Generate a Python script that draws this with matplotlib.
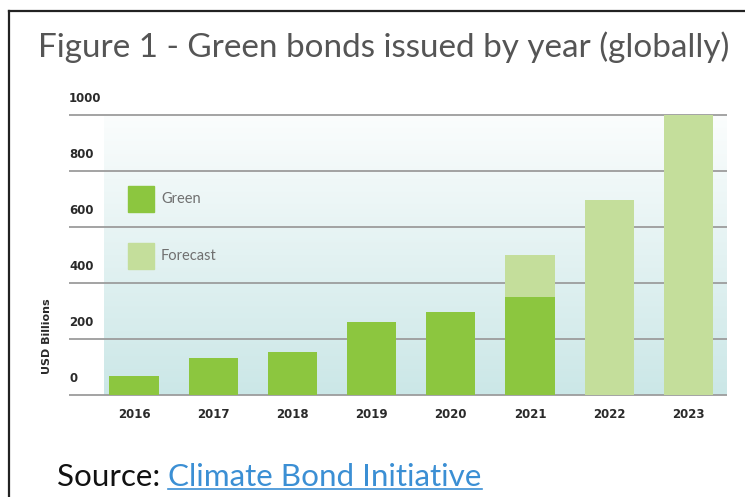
import numpy as np
import matplotlib
matplotlib.use('Agg')
import matplotlib.pyplot as plt
import matplotlib.transforms as mtransforms
from matplotlib.patches import Rectangle
from matplotlib.lines import Line2D

# data
years = ['2016', '2017', '2018', '2019', '2020', '2021', '2022', '2023']
green = [68, 131, 153, 262, 296, 350, 0, 0]
forecast = [0, 0, 0, 0, 0, 150, 695, 1000]
yticks = [0, 200, 400, 600, 800, 1000]
legend_labels = ['Green', 'Forecast']

GREEN = '#8cc63f'
FORECAST = '#c4de9b'
BOLD_FONT = ['DejaVu Sans']

plt.rcParams['font.family'] = ['Lato', 'DejaVu Sans']

W, H = 745, 497
fig = plt.figure(figsize=(W / 100, H / 100), dpi=100)
r = fig.canvas.get_renderer()


def fx(px):
    return px / W


def fy(py):
    return 1 - py / H


def fit_width(txt, width_px):
    # shrink/grow the font so the text spans the same width as in the reference
    w = txt.get_window_extent(r).width
    txt.set_fontsize(txt.get_fontsize() * width_px / w)


# frame (top and left only visible)
fig.add_artist(Line2D([fx(9), fx(9)], [fy(11), 0], color='#222222', lw=1.6))
fig.add_artist(Line2D([fx(9), 1], [fy(11), fy(11)], color='#222222', lw=1.6))

title = fig.text(fx(38), fy(57), 'Figure 1 - Green bonds issued by year (globally)',
                 fontsize=22, color='#555555', ha='left', va='baseline')
fit_width(title, 689)

ax = fig.add_axes([fx(69), fy(395), fx(727) - fx(69), fy(115) - fy(395)])
x = np.arange(len(years))
step = 79.2
x_left = (69 - 134) / step
x_grad = (104 - 134) / step
x_right = (727 - 134) / step
ax.set_xlim(x_left, x_right)
ax.set_ylim(0, 1000)

# gradient background
top_c = np.array([251, 253, 253]) / 255
bot_c = np.array([203, 231, 231]) / 255
t = np.linspace(0, 1, 256)[:, None]
grad = (top_c * (1 - t) + bot_c * t)[:, None, :]
ax.imshow(grad, extent=[x_grad, x_right, 0, 1000], aspect='auto', zorder=0,
          interpolation='bilinear')

ax.hlines(yticks, x_left, x_right, colors='#9c9c9c', lw=1.3, zorder=1, clip_on=False)

ax.bar(x, green, width=0.62, color=GREEN, zorder=2)
ax.bar(x, forecast, width=0.62, bottom=green, color=FORECAST, zorder=2)

for s in ax.spines.values():
    s.set_visible(False)
ax.set_yticks([])
ax.set_xticks(x)
ax.set_xticklabels(years, fontsize=8.5, fontweight='bold', color='#2a2a2a',
                   family=BOLD_FONT)
ax.tick_params(axis='x', length=0, pad=9)

lab_tr = mtransforms.offset_copy(ax.get_yaxis_transform(), fig=fig, y=16, units='dots')
for v in yticks:
    ax.text(0, v, str(v), transform=lab_tr, ha='left', va='center',
            fontsize=8.5, fontweight='bold', color='#2a2a2a', family=BOLD_FONT)

fig.text(fx(47), fy(336), 'USD Billions', rotation=90, ha='center', va='center',
         fontsize=8, fontweight='bold', color='#2a2a2a', family=BOLD_FONT)

# legend
for i, (lab, col) in enumerate(zip(legend_labels, [GREEN, FORECAST])):
    top = 186 + i * 57
    fig.add_artist(Rectangle((fx(128), fy(top + 26)), fx(26), fy(0) - fy(26),
                             color=col, transform=fig.transFigure))
    fig.text(fx(161), fy(top + 13), lab, fontsize=10.5, color='#707070',
             ha='left', va='center')

# source line
src = fig.text(fx(57), fy(486), 'Source: ', fontsize=22, color='#111111',
               ha='left', va='baseline')
link = fig.text(0, fy(486), 'Climate Bond Initiative', fontsize=22,
                color='#3b8fd4', ha='left', va='baseline')
total = src.get_window_extent(r).width + link.get_window_extent(r).width
scale = (481 - 57) / total
src.set_fontsize(22 * scale)
link.set_fontsize(22 * scale)
link.set_x(src.get_window_extent(r).x1 / W)
lb = link.get_window_extent(r)
fig.add_artist(Line2D([lb.x0 / W, lb.x1 / W], [fy(489), fy(489)],
                      color='#3b8fd4', lw=1.2))

fig.savefig('out.png', dpi=100)
